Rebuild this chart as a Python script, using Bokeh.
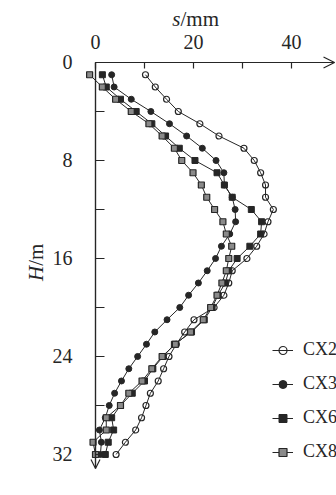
import math
from bokeh.plotting import figure
from bokeh.models import (Range1d, LinearAxis, FixedTicker, Label, Arrow, OpenHead,
                          Legend, LegendItem)
from bokeh.embed import file_html
from bokeh.resources import INLINE

# ---- data (depth H in m, displacement s in mm) ----
depth = list(range(1, 33))
cx2 = [10.2, 12.2, 14.5, 16.9, 21.3, 25.2, 30.3, 32.4, 33.7, 34.7, 34.7, 36.3, 35.2, 34.4, 32.9, 30.9,
       27.9, 27.2, 26.2, 24.2, 20.1, 18.2, 16.5, 15.0, 13.9, 12.8, 11.2, 10.3, 9.4, 8.2, 6.1, 4.2]
cx3 = [3.3, 3.8, 7.3, 11.3, 15.1, 18.6, 21.8, 24.6, 26.2, 26.3, 27.9, 28.5, 28.6, 27.4, 25.7, 24.5,
       22.8, 21.0, 19.0, 17.2, 14.6, 12.1, 10.4, 8.6, 6.8, 5.3, 3.9, 2.8, 2.0, 0.8, 1.2, 1.0]
cx6 = [1.4, 2.2, 5.1, 8.3, 11.5, 14.3, 17.1, 20.3, 24.8, 26.3, 27.9, 31.8, 33.9, 33.7, 31.5, 28.9,
       27.2, 26.5, 25.0, 23.8, 22.2, 19.6, 16.1, 13.8, 11.7, 10.0, 7.5, 5.1, 3.3, 3.7, 2.6, 2.0]
cx8 = [-1.2, 1.4, 4.1, 7.3, 10.9, 13.6, 16.1, 17.6, 19.9, 21.6, 22.7, 24.3, 26.0, 26.7, 27.8, 27.2,
       26.7, 25.8, 24.8, 23.5, 22.0, 19.4, 16.3, 13.6, 11.5, 9.5, 6.8, 5.1, 2.2, 2.2, -0.5, 0.0]
series_names = ["CX2", "CX3", "CX6", "CX8"]

x_ticks = [0, 20, 40]
x_minor = [10, 30]
y_ticks = [0, 8, 16, 24, 32]
y_minor = [4, 12, 20, 28]

FONT = "Liberation Serif"
INK = "#262626"

p = figure(width=336, height=495, output_backend="svg", toolbar_location=None,
           x_range=Range1d(-19.388, 49.184), y_range=Range1d(35.347, -5.061),
           x_axis_location=None, y_axis_location=None,
           min_border_left=0, min_border_right=0, min_border_top=0, min_border_bottom=0)
p.outline_line_color = None
p.xgrid.grid_line_color = None
p.ygrid.grid_line_color = None

def style_axis(ax, tick_len, standoff):
    ax.axis_line_color = INK
    ax.axis_line_width = 1.2
    ax.major_tick_in = tick_len
    ax.major_tick_out = 0
    ax.minor_tick_in = tick_len
    ax.minor_tick_out = 0
    ax.major_tick_line_color = INK
    ax.minor_tick_line_color = INK
    ax.major_tick_line_width = 1.2
    ax.minor_tick_line_width = 1.2
    ax.major_label_text_font = FONT
    ax.major_label_text_font_size = "20px"
    ax.major_label_text_color = INK
    ax.major_label_standoff = standoff

xa = LinearAxis(fixed_location=0, ticker=FixedTicker(ticks=x_ticks, minor_ticks=x_minor),
                bounds=(0, 48.78))
style_axis(xa, 6, 13)
p.add_layout(xa, "above")

ya = LinearAxis(fixed_location=0, ticker=FixedTicker(ticks=y_ticks, minor_ticks=y_minor),
                bounds=(0, 33.14))
style_axis(ya, 9, 23)
p.add_layout(ya, "left")

# arrow heads
p.add_layout(Arrow(end=OpenHead(size=11, line_color=INK, line_width=1.2),
                   x_start=0, y_start=0, x_end=48.78, y_end=0, line_color=INK, line_width=1.2))
p.add_layout(Arrow(end=OpenHead(size=9, line_color=INK, line_width=1.2),
                   x_start=0, y_start=0, x_end=0, y_end=33.14, line_color=INK, line_width=1.2))

# axis titles
common = dict(text_font=FONT, text_font_size="21px", text_color=INK, text_baseline="alphabetic")
p.add_layout(Label(x=17.35, y=-3.55, text="s", text_align="right", text_font_style="italic", **common))
p.add_layout(Label(x=17.35, y=-3.55, text="/mm", text_align="left", **common))
p.add_layout(Label(x=-12.2, y=16.6, text="H", angle=math.pi / 2, text_align="right",
                   text_font_style="italic", **common))
p.add_layout(Label(x=-12.2, y=16.6, text="/m", angle=math.pi / 2, text_align="left", **common))

styles = [
    dict(marker="circle", size=6, fill_color=None, line_color=INK, line_width=1.2),
    dict(marker="circle", size=6, fill_color=INK, line_color=INK, line_width=1),
    dict(marker="square", size=6, fill_color=INK, line_color=INK, line_width=1),
    dict(marker="square", size=6, fill_color="#8a8a8a", line_color=INK, line_width=1.2),
]
items = []
for name, vals, st in zip(series_names, [cx2, cx3, cx6, cx8], styles):
    lr = p.line(vals, depth, line_color=INK, line_width=1)
    sr = p.scatter(vals, depth, **st)
    items.append(LegendItem(label=name, renderers=[lr, sr]))

legend = Legend(items=items, location=(272, 33), orientation="vertical",
                glyph_width=21, glyph_height=20, label_height=20, spacing=13,
                padding=0, margin=0, border_line_color=None, background_fill_alpha=0,
                label_text_font=FONT, label_text_font_size="18px", label_text_color=INK,
                label_standoff=10)
p.add_layout(legend)

open("out.html", "w").write(file_html(p, INLINE))
